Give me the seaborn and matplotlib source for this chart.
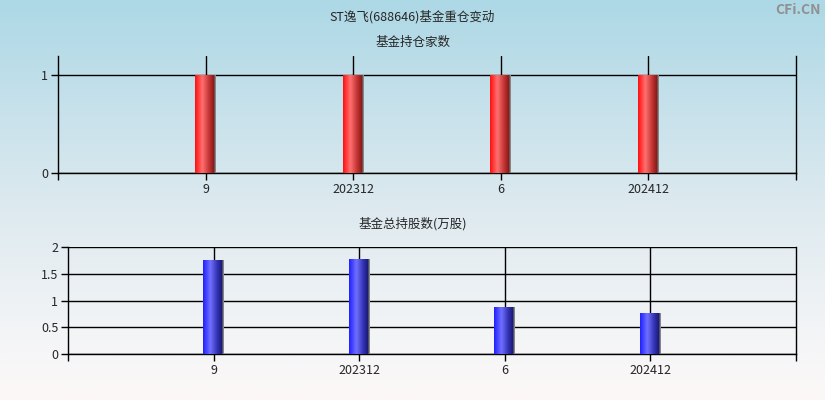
import numpy as np
import pandas as pd
import matplotlib
matplotlib.use("Agg")
import matplotlib.pyplot as plt
from matplotlib.colors import LinearSegmentedColormap
import seaborn as sns

# 数据
periods = ["9", "202312", "6", "202412"]
fund_count = [1, 1, 1, 1]
fund_shares = [1.76, 1.78, 0.88, 0.77]

sns.set_style("white")
plt.rcParams['font.family'] = ['Noto Sans CJK SC', 'DejaVu Sans']

fig = plt.figure(figsize=(8.25, 4), dpi=100)

# 背景渐变
bg = fig.add_axes([0, 0, 1, 1], zorder=-10)
bg_cmap = LinearSegmentedColormap.from_list(
    "bg", [(0, "#add8e6"), (0.5, "#dce9ef"), (0.85, "#f4f5f7"), (1, "#fdf8f7")])
bg.imshow(np.linspace(0, 1, 256).reshape(-1, 1), aspect="auto", cmap=bg_cmap,
          extent=[0, 1, 0, 1], origin="upper")
bg.axis("off")

red_cmap = LinearSegmentedColormap.from_list(
    "r", [(0, "#ff1010"), (0.35, "#ff7070"), (0.7, "#c03030"), (0.93, "#801818"),
          (0.94, "#707070"), (1, "#909090")])
blue_cmap = LinearSegmentedColormap.from_list(
    "b", [(0, "#2020ff"), (0.35, "#7070ff"), (0.7, "#3030b0"), (0.93, "#181870"),
          (0.94, "#707070"), (1, "#909090")])


def shade_bars(ax, cmap):
    grad = np.linspace(0, 1, 64).reshape(1, -1)
    for p in ax.patches:
        p.set_linewidth(0)
        p.set_edgecolor("none")
        x0, y0 = p.get_x(), p.get_y()
        w, h = p.get_width(), p.get_height()
        im = ax.imshow(grad, aspect="auto", cmap=cmap, extent=[x0, x0 + w, y0, y0 + h],
                       zorder=3, interpolation="bilinear")
        im.set_clip_path(p)
        p.set_zorder(3)


def style_axes(ax, ymax, yticks, yticklabels):
    ax.set_facecolor("none")
    ax.set_xlim(-1, 4)
    ax.set_ylim(0, ymax)
    ax.set_xticks([-1, 0, 1, 2, 3, 4])
    ax.set_xticklabels([""] + periods + [""], fontsize=9)
    ax.set_yticks(yticks)
    ax.set_yticklabels(yticklabels, fontsize=9)
    ax.tick_params(axis="both", length=5, width=1, color="black", direction="out",
                   pad=2, bottom=True, left=True)
    for x in range(4):
        ax.axvline(x, color="black", lw=1, zorder=1)
    for y in yticks:
        ax.axhline(y, color="black", lw=1, zorder=1)
    ax.spines["top"].set_visible(False)
    for s in ["left", "right", "bottom"]:
        ax.spines[s].set_color("black")
        ax.spines[s].set_linewidth(1)
    ax.set_xlabel("")
    ax.set_ylabel("")


# 上图：基金持仓家数
ax1 = fig.add_axes([0.0703, 0.5675, 0.8945, 0.2925])
df1 = pd.DataFrame({"period": periods, "count": fund_count})
sns.barplot(data=df1, x="period", y="count", order=periods, width=0.14,
            color="#ff4040", ax=ax1, zorder=3, linewidth=0)
style_axes(ax1, 1.19, [0, 1], ["0", "1"])
shade_bars(ax1, red_cmap)

# 下图：基金总持股数
ax2 = fig.add_axes([0.0824, 0.115, 0.8824, 0.2675])
df2 = pd.DataFrame({"period": periods, "shares": fund_shares})
sns.barplot(data=df2, x="period", y="shares", order=periods, width=0.142,
            color="#4040ff", ax=ax2, zorder=3, linewidth=0)
style_axes(ax2, 2, [0, 0.5, 1, 1.5, 2], ["0", "0.5", "1", "1.5", "2"])
shade_bars(ax2, blue_cmap)

fig.text(0.5, 0.957, "ST逸飞(688646)基金重仓变动", ha="center", va="center", fontsize=9)
fig.text(0.5, 0.893, "基金持仓家数", ha="center", va="center", fontsize=9)
fig.text(0.5, 0.44, "基金总持股数(万股)", ha="center", va="center", fontsize=9)
fig.text(0.995, 0.975, "CFi.CN", ha="right", va="center", fontsize=10,
         color="#909090", fontweight="bold")

plt.savefig("out.png", dpi=100)
